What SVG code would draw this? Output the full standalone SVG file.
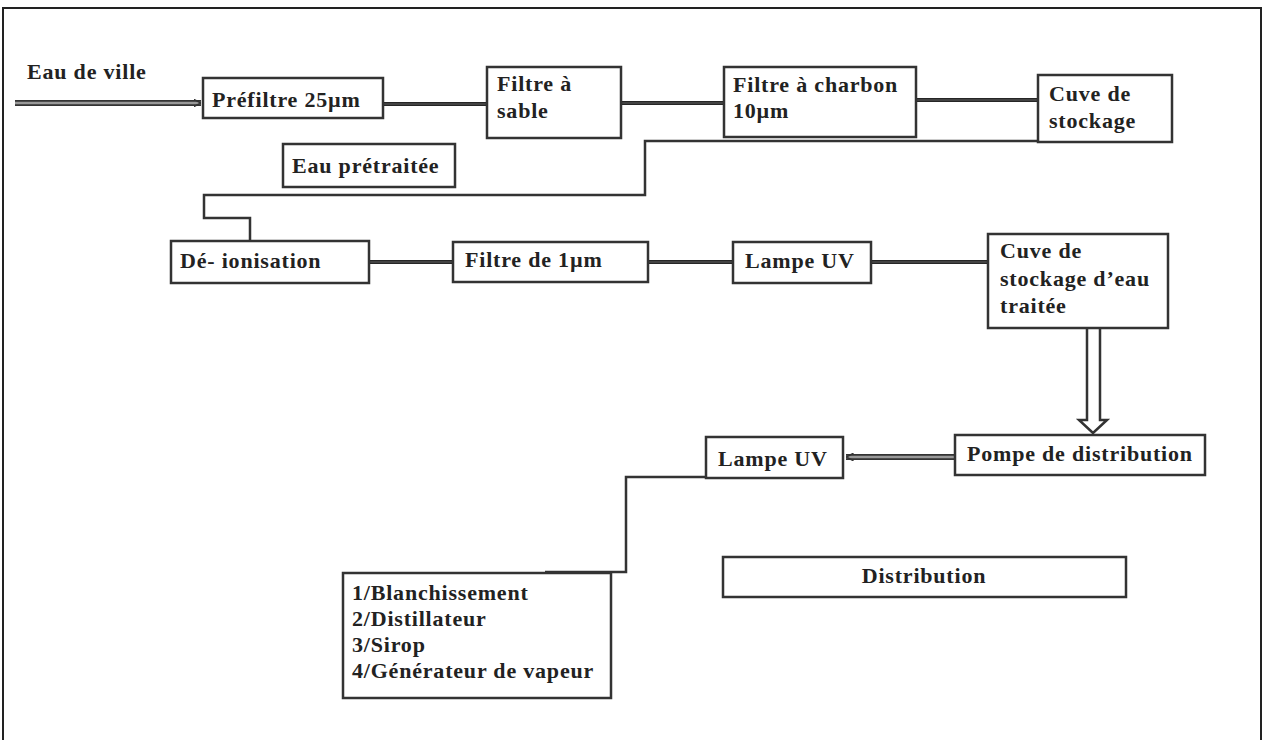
<svg xmlns="http://www.w3.org/2000/svg" width="1265" height="740" viewBox="0 0 1265 740">
<style>
.box{fill:#fff;stroke:#333;stroke-width:2.5}
.t{font-family:"Liberation Serif","Times New Roman",serif;font-weight:bold;font-size:22px;letter-spacing:0.8px;fill:#222}
.c{fill:none;stroke:#262626;stroke-width:4}
.ci{fill:none;stroke:#606060;stroke-width:1}
.d{fill:none;stroke:#333;stroke-width:6}
.di{fill:none;stroke:#999;stroke-width:2.5}
.thin{fill:none;stroke:#333;stroke-width:2.5}
</style>
<defs>
<marker id="ah" viewBox="0 0 10 10" refX="10" refY="5" markerWidth="3" markerHeight="3" orient="auto"><path d="M0,0 L10,5 L0,10" fill="none" stroke="#333" stroke-width="2"/></marker>
</defs>
<rect x="3" y="8" width="1258" height="760" fill="#fff" stroke="#222" stroke-width="2"/>
<g id="connectors">
<path class="d" d="M15,103 H201"/><path class="di" d="M15,103 H201" marker-end="url(#ah)"/>
<path class="c" d="M383,104 H487"/><path class="ci" d="M383,104 H487"/>
<path class="c" d="M621,103 H724"/><path class="ci" d="M621,103 H724"/>
<path class="c" d="M916,100 H1038"/><path class="ci" d="M916,100 H1038"/>
<path class="thin" d="M1172,141 H645 V195 H204 V218 H250 V241"/>
<path class="c" d="M369,262 H454"/><path class="ci" d="M369,262 H454"/>
<path class="c" d="M648,262 H733"/><path class="ci" d="M648,262 H733"/>
<path class="c" d="M871,262 H988"/><path class="ci" d="M871,262 H988"/>
<path d="M1087,328 V420 H1079 L1093,433 L1107,420 H1100 V328" fill="#fff" stroke="#333" stroke-width="2.5"/>
<path class="d" d="M955,457 H846"/><path class="di" d="M955,457 H846" marker-end="url(#ah)"/>
<path class="thin" d="M706,477 H626 V572 H545"/>
</g>
<g id="eau-de-ville"><text class="t" x="27" y="79">Eau de ville</text></g>
<g id="prefiltre"><rect class="box" x="203" y="78" width="180" height="40"/><text class="t" x="212" y="107">Préfiltre 25µm</text></g>
<g id="filtre-sable"><rect class="box" x="487" y="67" width="134" height="71"/><text class="t" x="497" y="91">Filtre à</text><text class="t" x="497" y="118">sable</text></g>
<g id="filtre-charbon"><rect class="box" x="724" y="67" width="192" height="70"/><text class="t" x="733" y="92">Filtre à charbon</text><text class="t" x="733" y="118">10µm</text></g>
<g id="cuve-stockage"><rect class="box" x="1038" y="75" width="134" height="67"/><text class="t" x="1049" y="101">Cuve de</text><text class="t" x="1049" y="128">stockage</text></g>
<g id="eau-pretraitee"><rect class="box" x="283" y="144" width="172" height="43"/><text class="t" x="292" y="173">Eau prétraitée</text></g>
<g id="deionisation"><rect class="box" x="171" y="241" width="198" height="42"/><text class="t" x="180" y="268">Dé- ionisation</text></g>
<g id="filtre-1um"><rect class="box" x="453" y="242" width="195" height="40"/><text class="t" x="465" y="267">Filtre de 1µm</text></g>
<g id="lampe-uv-1"><rect class="box" x="733" y="242" width="138" height="41"/><text class="t" x="745" y="268">Lampe UV</text></g>
<g id="cuve-traitee"><rect class="box" x="988" y="234" width="180" height="94"/><text class="t" x="1000" y="258">Cuve de</text><text class="t" x="1000" y="286">stockage d’eau</text><text class="t" x="1000" y="313">traitée</text></g>
<g id="pompe"><rect class="box" x="955" y="435" width="250" height="40"/><text class="t" x="967" y="461">Pompe de distribution</text></g>
<g id="lampe-uv-2"><rect class="box" x="706" y="437" width="137" height="41"/><text class="t" x="718" y="466">Lampe UV</text></g>
<g id="usages"><rect class="box" x="343" y="573" width="268" height="125"/><text class="t" x="352" y="600">1/Blanchissement</text><text class="t" x="352" y="626">2/Distillateur</text><text class="t" x="352" y="652">3/Sirop</text><text class="t" x="352" y="678">4/Générateur de vapeur</text></g>
<g id="distribution"><rect class="box" x="723" y="557" width="403" height="40"/><text class="t" x="924" y="583" text-anchor="middle">Distribution</text></g>
</svg>
